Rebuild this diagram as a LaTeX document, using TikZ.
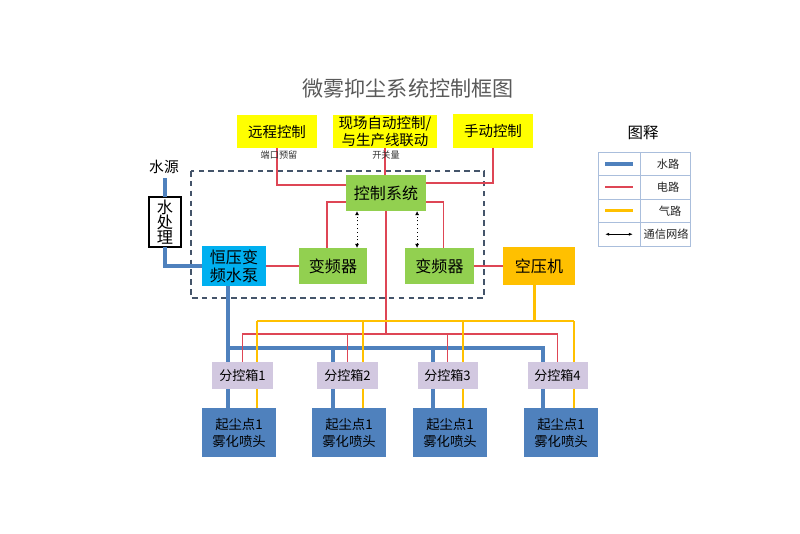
\documentclass[tikz,border=0pt]{standalone}
\usepackage{fontspec}
\setmainfont{Noto Sans CJK SC}
\usetikzlibrary{arrows.meta,calc}
\definecolor{ctlyellow}{RGB}{255,255,0}
\definecolor{sysgreen}{RGB}{146,208,80}
\definecolor{pumpcyan}{RGB}{0,176,240}
\definecolor{cmporange}{RGB}{255,192,0}
\definecolor{subpurple}{RGB}{210,200,224}
\definecolor{wblue}{RGB}{79,129,189}
\definecolor{ered}{RGB}{222,70,85}
\definecolor{ayellow}{RGB}{255,192,0}
\definecolor{dashblue}{RGB}{68,84,106}
\definecolor{titlegray}{RGB}{89,89,89}
\definecolor{lgdline}{RGB}{170,190,220}

\begin{document}
\begin{tikzpicture}[
  x=0.025cm,y=-0.025cm,
  every node/.style={inner sep=0pt,outer sep=0pt},
  box/.style={align=center,text=black},
  ctlbox/.style={box,fill=ctlyellow,minimum width=2.0cm,
    minimum height=0.83cm,font=\fontsize{10.3}{11.5}\selectfont},
  grnbox/.style={box,fill=sysgreen,minimum height=0.9cm,
    font=\fontsize{11.4}{13}\selectfont},
  pumpbox/.style={box,fill=pumpcyan,minimum width=1.6cm,
    minimum height=1.0cm,font=\fontsize{11.4}{12.8}\selectfont},
  cmpbox/.style={box,fill=cmporange,minimum width=1.8cm,
    minimum height=0.97cm,font=\fontsize{11.4}{13}\selectfont},
  subbox/.style={box,fill=subpurple,minimum width=1.5cm,
    minimum height=0.68cm,font=\fontsize{9.3}{11}\selectfont},
  sprbox/.style={box,fill=wblue,minimum width=1.85cm,
    minimum height=1.22cm,font=\fontsize{9.5}{12}\selectfont},
  wtbox/.style={box,draw=black,line width=1pt,fill=white,
    minimum width=0.8cm,minimum height=1.25cm,
    font=\fontsize{11.5}{10.8}\selectfont},
  note/.style={font=\fontsize{6.5}{8}\selectfont,text=black!80},
  lgd/.style={font=\fontsize{8}{10}\selectfont,text=black!85},
  water/.style={wblue,line width=3.2pt},
  elec/.style={ered,line width=1.2pt},
  air/.style={ayellow,line width=1.9pt},
  comm/.style={black,dotted,line width=0.7pt,
    {Latex[length=3pt,width=3pt]}-{Latex[length=3pt,width=3pt]}},
]
\useasboundingbox (0,0) rectangle (800,533);

\node[text=titlegray,font=\fontsize{15}{18}\selectfont](title)
  at(408,88){微雾抑尘系统控制框图};

% control sources
\node[ctlbox](remote)at(277,131.5){远程控制};
\node[ctlbox,minimum width=2.6cm](onsite)at(385,131.5){现场自动控制/\\与生产线联动};
\node[ctlbox](manual)at(493,131){手动控制};

% dashed frame
\draw[dashblue,line width=1.1pt,dash pattern=on 4pt off 3pt]
  (191,171) rectangle (484,298);

\node[grnbox,minimum width=2.0cm](ctrl)at(386,193){控制系统};
\node[grnbox,minimum width=1.7cm](vfd1)at(333,266){变频器};
\node[grnbox,minimum width=1.7cm](vfd2)at(439.5,266){变频器};
\node[pumpbox](pump)at(234,266){恒压变\\频水泵};
\node[cmpbox](comp)at(539,266){空压机};

\node[font=\fontsize{10.5}{12}\selectfont](srclbl)at(164,167){水源};
\node[wtbox](wt)at(165,222){水\\处\\理};

% sub control boxes
\node[subbox](sub1)at(242.5,375.5){分控箱1};
\node[subbox](sub2)at(347.5,375.5){分控箱2};
\node[subbox](sub3)at(447.5,375.5){分控箱3};
\node[subbox](sub4)at(557.5,375.5){分控箱4};

\node[sprbox](spr1)at(239,432.5){起尘点1\\雾化喷头};
\node[sprbox](spr2)at(349,432.5){起尘点1\\雾化喷头};
\node[sprbox](spr3)at(450,432.5){起尘点1\\雾化喷头};
\node[sprbox](spr4)at(561,432.5){起尘点1\\雾化喷头};

\coordinate(w1)at(228,348);
\coordinate(w2)at(333,348);
\coordinate(w3)at(433,348);
\coordinate(w4)at(543,348);
\coordinate(ebus)at(385,334);
\coordinate(a1)at(257,321);
\coordinate(a2)at(363,321);
\coordinate(a3)at(463,321);
\coordinate(a4)at(574,321);

% water
\draw[water] ([yshift=-3pt]wt.north |- srclbl.south) -- (wt.north);
\draw[water] (wt.south) |- (pump.west);
\draw[water] (pump.south -| w1) -- (sub1.north -| w1);
\draw[water] (w1) -| (sub4.north -| w4);
\draw[water] (w2) -- (sub2.north -| w2);
\draw[water] (w3) -- (sub3.north -| w3);
\draw[water] (sub1.south -| w1) -- (spr1.north -| w1);
\draw[water] (sub2.south -| w2) -- (spr2.north -| w2);
\draw[water] (sub3.south -| w3) -- (spr3.north -| w3);
\draw[water] (sub4.south -| w4) -- (spr4.north -| w4);

% electric
\draw[elec] (remote.south) |- ([yshift=0.2cm]ctrl.west);
\draw[elec] (onsite.south) -- (onsite.south |- ctrl.north);
\draw[elec] (manual.south) |- ([yshift=0.25cm]ctrl.east);
\draw[elec] ([yshift=-0.22cm]ctrl.west) -| ([xshift=-0.15cm]vfd1.north);
\draw[elec] ([yshift=-0.22cm]ctrl.east) -| ([xshift=0.1cm]vfd2.north);
\draw[elec] (pump.east) -- (vfd1.west);
\draw[elec] (vfd2.east) -- (comp.west);
\draw[elec] (ctrl.south) -- (ctrl.south |- ebus);
\draw[elec] (sub1.north) |- (ebus) -| (sub4.north);
\draw[elec] (sub2.north) -- (sub2.north |- ebus);
\draw[elec] (sub3.north) -- (sub3.north |- ebus);

\node[note](portlbl)at(279,155){端口预留};
\node[note](swlbl)at(386,155){开关量};

% air
\draw[air] ([xshift=-0.12cm]comp.south) -- ([xshift=-0.12cm]comp.south |- a4);
\draw[air] (a1) -- (a4);
\draw[air] (a1) -- (a1 |- sub1.north);
\draw[air] (a2) -- (a2 |- sub2.north);
\draw[air] (a3) -- (a3 |- sub3.north);
\draw[air] (a4) -- (a4 |- sub4.north);
\draw[air] (sub1.south -| a1) -- (spr1.north -| a1);
\draw[air] (sub2.south -| a2) -- (spr2.north -| a2);
\draw[air] (sub3.south -| a3) -- (spr3.north -| a3);
\draw[air] (sub4.south -| a4) -- (spr4.north -| a4);

% network
\draw[comm] ([xshift=0.6cm]vfd1.north) -- ([xshift=0.6cm]vfd1.north |- ctrl.south);
\draw[comm] ([xshift=-0.56cm]vfd2.north) -- ([xshift=-0.56cm]vfd2.north |- ctrl.south);

% legend
\node[font=\fontsize{11}{13}\selectfont](lgdtitle)at(643,133){图释};
\draw[lgdline,line width=0.6pt] (598,152) rectangle (690,246);
\draw[lgdline,line width=0.6pt] (598,175.5) -- (690,175.5)
  (598,199) -- (690,199) (598,222.5) -- (690,222.5) (640,152) -- (640,246);
\draw[water] (605,163.75) -- (633,163.75);
\draw[elec] (605,187.25) -- (633,187.25);
\draw[air] (605,210.75) -- (633,210.75);
\draw[black,line width=0.6pt,{Latex[length=3pt]}-{Latex[length=3pt]}]
  (605,234.25) -- (633,234.25);
\node[lgd](lgw)at(668,163.75){水路};
\node[lgd](lge)at(668,187.25){电路};
\node[lgd](lga)at(670,210.75){气路};
\node[lgd](lgc)at(666,234.25){通信网络};
\end{tikzpicture}
\end{document}
